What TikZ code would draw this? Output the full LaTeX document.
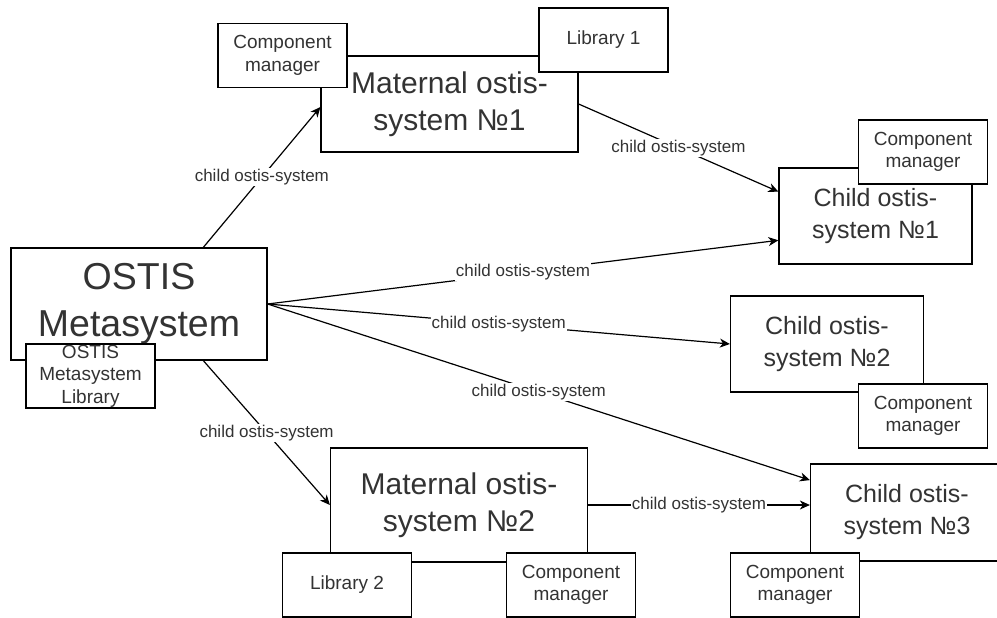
\documentclass[tikz,border=0pt]{standalone}
\usepackage{fontspec}
\setmainfont{Liberation Sans}
\usetikzlibrary{arrows.meta, calc}

\begin{document}
\begin{tikzpicture}[
  x=1pt, y=-1pt,
  box/.style={draw, line width=1.2pt, fill=white, inner sep=0pt, align=center, text=black!80},
  metabox/.style={box, minimum width=256pt, minimum height=112pt, font=\fontsize{37.5}{47}\selectfont},
  matbox/.style={box, minimum width=257pt, minimum height=96pt, font=\fontsize{30}{37}\selectfont},
  childbox/.style={box, minimum width=193pt, minimum height=96pt, font=\fontsize{25}{32}\selectfont},
  partbox/.style={box, minimum width=129pt, minimum height=64pt, font=\fontsize{19}{22.5}\selectfont},
  arr/.style={-{Stealth[length=10pt, width=9pt, inset=3pt]}, line width=1.2pt},
  lbl/.style={font=\fontsize{17}{20}\selectfont, text=black!80, fill=white, inner sep=1pt},
]
\useasboundingbox (0,0) rectangle (997,618);
\clip (0,0) rectangle (997,618);

% Systems
\node[metabox] (meta) at (139,304) {OSTIS\\Metasystem};
\node[matbox] (mat1) at (449.5,104) {Maternal ostis-\\system №1};
\node[matbox, minimum height=114pt] (mat2) at (459,505) {Maternal ostis-\\system №2};
\node[childbox] (child1) at (875.5,216) {Child ostis-\\system №1};
\node[childbox] (child2) at (827,344) {Child ostis-\\system №2};
\node[childbox, minimum height=97pt] (child3) at (907,512.5) {Child ostis-\\system №3};

% Libraries and managers
\node[partbox] (metalib) at (90.5,376) {OSTIS\\Metasystem\\Library};
\node[partbox] (cm1) at (282.5,55.5) {Component\\manager};
\node[partbox] (lib1) at (603.5,40) {Library 1};
\node[partbox] (cmc1) at (923,152) {Component\\manager};
\node[partbox] (cmc2) at (923,416) {Component\\manager};
\node[partbox] (lib2) at (347,585) {Library 2};
\node[partbox] (cmm2) at (571,585) {Component\\manager};
\node[partbox] (cmc3) at (795,585) {Component\\manager};

% Arrows
\draw[arr] ($(meta.north west)!0.75!(meta.north east)$) -- node[lbl] {child ostis-system} ([yshift=-3pt]mat1.west);
\draw[arr] ($(meta.south west)!0.75!(meta.south east)$) -- node[lbl] {child ostis-system} (mat2.west);
\draw[arr] (mat1.east) -- node[lbl] {child ostis-system} ($(child1.north west)!0.25!(child1.south west)$);
\draw[arr] (meta.east) -- node[lbl] {child ostis-system} ($(child1.north west)!0.75!(child1.south west)$);
\draw[arr] (meta.east) -- node[lbl] {child ostis-system} (child2.west);
\draw[arr] (meta.east) -- node[lbl] {child ostis-system} ($(child3.north west)!0.17!(child3.south west)$);
\draw[arr] (mat2.east) -- node[lbl] {child ostis-system} (mat2.east -| child3.west);

\end{tikzpicture}
\end{document}
